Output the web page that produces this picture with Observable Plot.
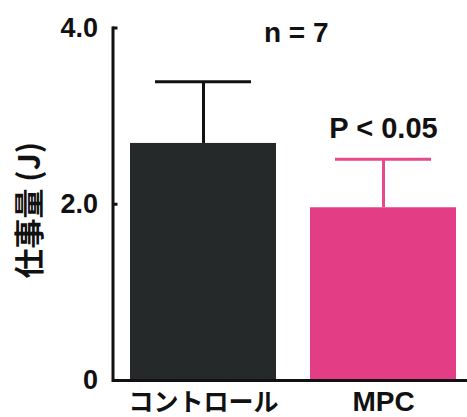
<!DOCTYPE html>
<html>
<head>
<meta charset="utf-8">
<script src="https://cdn.jsdelivr.net/npm/d3@7"></script>
<script src="https://cdn.jsdelivr.net/npm/@observablehq/plot@0.6"></script>
<style>
  html, body { margin: 0; padding: 0; background: #ffffff; }
  #chart svg { display: block; }
</style>
</head>
<body>
<div id="chart"></div>
<script>
// Work output per group (mean and SD), n = 7
const groups = ["コントロール", "MPC"];
const means = [2.69, 1.96];
const sds = [0.70, 0.55];
const fills = ["#25292a", "#e23d85"];
const errColors = ["#111111", "#e6498c"];
const yTicks = [0, 2, 4];
const yTickLabels = ["0", "2.0", "4.0"];
const yTitle = "仕事量 (J)";
const sampleNote = "n = 7";
const sigNote = "P < 0.05";

const rows = groups.map((g, i) => ({group: g, mean: means[i], sd: sds[i], fill: fills[i], err: errColors[i]}));

const latin = "'Liberation Sans', Arial, 'Noto Sans CJK JP', sans-serif";
const cjk = "'Noto Sans CJK JP', 'Liberation Sans', sans-serif";

const W = 467, H = 417, ML = 112.5;

const chart = Plot.plot({
  width: W,
  height: H,
  marginTop: 27.5,
  marginBottom: 37,
  marginLeft: ML,
  marginRight: 0,
  style: {background: "#ffffff", color: "#111111", fontFamily: latin, overflow: "visible"},
  x: {type: "band", domain: groups, range: [129, 456], paddingInner: 0.19, paddingOuter: 0, axis: null},
  y: {domain: [0, 4], axis: null},
  marks: [
    Plot.barY(rows, {x: "group", y: "mean", fill: "fill"}),
    // error bars: stem and cap
    Plot.ruleX(rows, {x: "group", y1: "mean", y2: d => d.mean + d.sd, stroke: "err", strokeWidth: 3}),
    Plot.tickY(rows, {x: "group", y: d => d.mean + d.sd, stroke: "err", strokeWidth: 3, insetLeft: 25, insetRight: 25}),
    // axes
    Plot.frame({anchor: "left", stroke: "#111111", strokeWidth: 3}),
    Plot.ruleY([0], {stroke: "#111111", strokeWidth: 3}),
    // short inward tick marks on the y axis
    Plot.tickY(yTicks, {y: d => d, stroke: "#111111", strokeWidth: 3, insetRight: W - ML - 5}),
    // tick labels
    Plot.axisY({anchor: "left", ticks: yTicks, tickSize: 0, tickPadding: 15, label: null,
      tickFormat: v => yTickLabels[yTicks.indexOf(v)], fontSize: 27, fontWeight: "bold", fill: "#111111"}),
    Plot.text([yTitle], {frameAnchor: "left", dx: -83, dy: 6, rotate: -90, textAnchor: "middle",
      lineAnchor: "middle", fontSize: 30, fontWeight: "bold", fontFamily: cjk, fill: "#111111"}),
    // category labels
    Plot.text(rows, {x: "group", y: 0, text: "group", dy: 22, lineAnchor: "middle",
      fontSize: d => d.group === "MPC" ? 28 : 25, fontWeight: "bold",
      fontFamily: latin, fill: "#111111"}),
    // annotations
    Plot.text([sampleNote], {frameAnchor: "top", dx: 6, dy: 5, lineAnchor: "middle", fontSize: 28,
      fontWeight: "bold", fill: "#111111"}),
    Plot.text(rows.filter(d => d.group === "MPC"), {x: "group", y: d => d.mean + d.sd, text: () => sigNote,
      dy: -31, lineAnchor: "middle", fontSize: 29, fontWeight: "bold", fill: "#111111"})
  ]
});

document.getElementById("chart").appendChild(chart);
</script>
</body>
</html>
